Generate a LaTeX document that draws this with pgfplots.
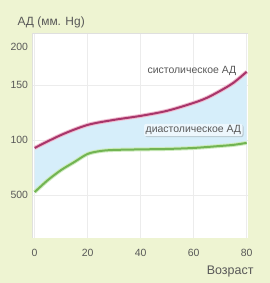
\documentclass[border=0pt]{standalone}
\usepackage{fontspec}
\setmainfont{Liberation Sans}
\usepackage{pgfplots}
\pgfplotsset{compat=1.18}
\usepgfplotslibrary{fillbetween}
\usetikzlibrary{shadows}
\definecolor{bgc}{HTML}{EEF4D2}
\definecolor{sysc}{HTML}{A8356A}
\definecolor{sysh}{HTML}{F0BCD0}
\definecolor{diac}{HTML}{72B452}
\definecolor{diah}{HTML}{CDEBBE}
\definecolor{fillc}{HTML}{D6EEFA}
\definecolor{txtc}{HTML}{585858}
\begin{document}
\begin{tikzpicture}
\fill[bgc, even odd rule] (-32bp,-45bp) rectangle (238bp,238bp) (0,0) rectangle (216bp,205bp);
\begin{axis}[at={(0,0)},anchor=south west,
  scale only axis, width=216bp, height=205bp,
  xmin=-1, xmax=80.5, ymin=11, ymax=197,
  axis background/.style={fill=white},
  axis line style={draw=gray!25},
  xtick={0,20,40,60,80},
  ytick={50,100,150},
  yticklabels={500,100,150},
  extra y ticks={184}, extra y tick labels={200},
  extra y tick style={grid=none},
  grid=major, major grid style={gray!15},
  tick style={draw=none},
  ticklabel style={font=\fontsize{10.5}{11}\selectfont, text=txtc},
  /pgf/number format/assume math mode=true,
  xticklabel style={yshift=-8bp},
  yticklabel style={xshift=-0.5bp},
  clip=false,
]
\addplot[name path=sys, draw=none] coordinates {
(0,92.7) (10,104.5) (20,113.6) (30,118.2) (40,121.8) (50,126.4) (60,133.6) (65,138.2) (70,144.5) (75,151.8) (80,161.8)};
\addplot[name path=dia, draw=none] coordinates {
(0,52.7) (5,63.6) (10,72.7) (15,80) (20,87.3) (25,90) (30,90.9) (40,91.4) (50,91.8) (60,92.7) (70,94.5) (75,95.5) (80,97.3)};
\addplot[fill=fillc, draw=none] fill between[of=sys and dia];
\addplot[sysh, line width=4bp, smooth] coordinates {
(0,92.7) (10,104.5) (20,113.6) (30,118.2) (40,121.8) (50,126.4) (60,133.6) (65,138.2) (70,144.5) (75,151.8) (80,161.8)};
\addplot[sysc, line width=2bp, smooth] coordinates {
(0,92.7) (10,104.5) (20,113.6) (30,118.2) (40,121.8) (50,126.4) (60,133.6) (65,138.2) (70,144.5) (75,151.8) (80,161.8)};
\addplot[diah, line width=4bp, smooth] coordinates {
(0,52.7) (5,63.6) (10,72.7) (15,80) (20,87.3) (25,90) (30,90.9) (40,91.4) (50,91.8) (60,92.7) (70,94.5) (75,95.5) (80,97.3)};
\addplot[diac, line width=2bp, smooth] coordinates {
(0,52.7) (5,63.6) (10,72.7) (15,80) (20,87.3) (25,90) (30,90.9) (40,91.4) (50,91.8) (60,92.7) (70,94.5) (75,95.5) (80,97.3)};
\node[anchor=east, font=\fontsize{10.5}{11}\selectfont, text=txtc, inner sep=1bp] at (axis cs:76.5,163) {систолическое АД};
\node[anchor=east, font=\fontsize{10.5}{11}\selectfont, text=txtc, fill=white!55!fillc, rounded corners=2bp, inner sep=1.5bp, drop shadow={opacity=0.35, shadow xshift=1bp, shadow yshift=-1bp}] at (axis cs:78.5,109) {диастолическое АД};
\end{axis}
\node[anchor=west, font=\fontsize{12}{13}\selectfont, text=txtc] at (-18bp,216bp) {АД (мм. Hg)};
\node[anchor=east, font=\fontsize{12.5}{13}\selectfont, text=txtc] at (225bp,-34bp) {Возраст};
\end{tikzpicture}
\end{document}
